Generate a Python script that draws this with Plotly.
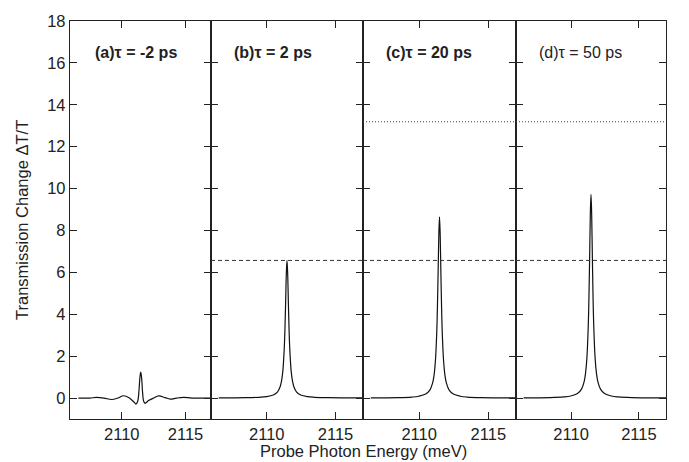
import plotly.graph_objects as go

# ---------------- data ----------------
x_a = [2106.6, 2107.5, 2108.0, 2108.6, 2109.2, 2109.7, 2110.13, 2110.6, 2111.0, 2111.12,
       2111.25, 2111.35, 2111.42, 2111.49, 2111.56, 2111.63, 2111.72, 2111.83, 2112.1,
       2112.5, 2112.9, 2113.4, 2113.8, 2114.3, 2114.85, 2115.5, 2117.0]
y_a = [0.0, 0.0, 0.03, 0.0, -0.07, 0.0, 0.11, 0.0, -0.22, -0.28,
       -0.15, 0.35, 0.95, 1.24, 0.95, 0.3, -0.15, -0.25, -0.12,
       0.0, 0.1, 0.02, -0.05, 0.0, 0.03, 0.0, 0.0]

x_peak = [2106.5, 2108.47, 2109.47, 2109.97, 2110.47, 2110.77, 2110.97, 2111.07, 2111.17,
          2111.27, 2111.32, 2111.37, 2111.42, 2111.47, 2111.52, 2111.57, 2111.62, 2111.67,
          2111.77, 2111.87, 2111.97, 2112.17, 2112.47, 2112.97, 2113.47, 2114.47, 2117.0]
y_b = [0.006, 0.016, 0.037, 0.065, 0.145, 0.288, 0.543, 0.81, 1.31, 2.37, 3.29, 4.55, 5.91, 6.57,
       5.91, 4.55, 3.29, 2.37, 1.31, 0.81, 0.543, 0.288, 0.145, 0.065, 0.037, 0.016, 0.005]
y_c = [0.008, 0.022, 0.048, 0.086, 0.19, 0.38, 0.71, 1.06, 1.73, 3.11, 4.33, 5.99, 7.79, 8.65,
       7.79, 5.99, 4.33, 3.11, 1.73, 1.06, 0.71, 0.38, 0.19, 0.086, 0.048, 0.022, 0.006]
y_d = [0.009, 0.024, 0.054, 0.096, 0.214, 0.427, 0.80, 1.20, 1.94, 3.50, 4.86, 6.73, 8.75, 9.72,
       8.75, 6.73, 4.86, 3.50, 1.94, 1.20, 0.80, 0.427, 0.214, 0.096, 0.054, 0.024, 0.007]

panel_labels = ["(a)τ = -2 ps", "(b)τ = 2 ps", "(c)τ = 20 ps", "(d)τ = 50 ps"]
dashed_level = 6.57
dotted_level = 13.19
x_ticks = [2110, 2115]
y_ticks = [0, 2, 4, 6, 8, 10, 12, 14, 16, 18]

# ---------------- figure ----------------
W, H = 689, 462
ml, mr, mt, mb = 70, 23, 17, 43
pw = W - ml - mr
edges_px = [70, 211, 363, 516, 666]
domains = [[(edges_px[i] - ml) / pw, (edges_px[i + 1] - ml) / pw] for i in range(4)]
xr = [2105.94, 2117.0]
yr = [-1, 18]
FONT = "Liberation Sans, Arial"

fig = go.Figure()
series = [(x_a, y_a), (x_peak, y_b), (x_peak, y_c), (x_peak, y_d)]
for i, (xs, ys) in enumerate(series):
    sfx = "" if i == 0 else str(i + 1)
    fig.add_trace(go.Scatter(x=xs, y=ys, mode="lines", line=dict(color="#111", width=1.2),
                             xaxis="x" + sfx, yaxis="y" + sfx, showlegend=False,
                             line_shape="spline"))

font_col = "#222"
axis_common = dict(showline=True, linecolor="#222", linewidth=1.3, mirror="ticks",
                   ticks="inside", ticklen=7, tickcolor="#222", tickwidth=1,
                   showgrid=False, zeroline=False,
                   tickfont=dict(family=FONT, size=16.5, color=font_col))

lay = dict(width=W, height=H, margin=dict(l=ml, r=mr, t=mt, b=mb),
           plot_bgcolor="white", paper_bgcolor="white", showlegend=False)
for i in range(4):
    sfx = "" if i == 0 else str(i + 1)
    xa = dict(axis_common, domain=domains[i], range=xr, tickvals=x_ticks,
              anchor="y" + sfx)
    ya = dict(axis_common, domain=[0, 1], range=yr, tickvals=y_ticks,
              anchor="x" + sfx, showticklabels=(i == 0))
    lay["xaxis" + sfx] = xa
    lay["yaxis" + sfx] = ya
fig.update_layout(**lay)

# reference lines
for i in [1, 2, 3]:
    sfx = str(i + 1)
    fig.add_shape(type="line", xref="x" + sfx + " domain", yref="y" + sfx,
                  x0=0, x1=1, y0=dashed_level, y1=dashed_level,
                  line=dict(color="#333", width=1, dash="4px,3px"))
for i in [2, 3]:
    sfx = str(i + 1)
    fig.add_shape(type="line", xref="x" + sfx + " domain", yref="y" + sfx,
                  x0=0, x1=1, y0=dotted_level, y1=dotted_level,
                  line=dict(color="#444", width=1, dash="1px,2px"))

# panel labels
label_x = [0.161, 0.136, 0.139, 0.138]
for i, txt in enumerate(panel_labels):
    sfx = "" if i == 0 else str(i + 1)
    t = txt if i == 3 else "<b>" + txt + "</b>"
    fig.add_annotation(text=t, xref="x" + sfx + " domain", yref="y" + sfx + " domain",
                       x=label_x[i], y=0.920, xanchor="left", yanchor="middle",
                       showarrow=False,
                       font=dict(family=FONT, size=16, color=font_col))

# axis titles
fig.add_annotation(text="Probe Photon Energy (meV)", xref="paper", yref="paper",
                   x=(363 - ml) / pw, y=-(451.5 - (H - mb)) / (H - mt - mb),
                   xanchor="center", yanchor="middle", showarrow=False,
                   font=dict(family=FONT, size=16.5, color=font_col))
fig.add_annotation(text="Transmission Change ΔT/T", xref="paper", yref="paper",
                   x=-(ml - 22) / pw, y=0.5, textangle=-90,
                   xanchor="center", yanchor="middle", showarrow=False,
                   font=dict(family=FONT, size=16.5, color=font_col))

fig.write_html("out.html")
